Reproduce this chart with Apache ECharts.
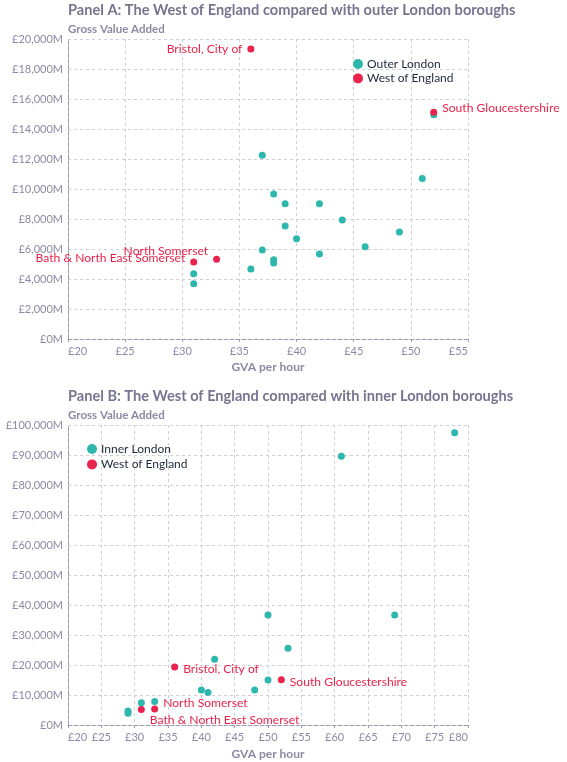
<!DOCTYPE html>
<html>
<head>
<meta charset="utf-8">
<script src="https://cdn.jsdelivr.net/npm/echarts@6/dist/echarts.min.js"></script>
<style>
  html, body { margin: 0; padding: 0; background: #ffffff; }
  #chart { width: 567px; height: 762px; }
</style>
</head>
<body>
<div id="chart"></div>
<script>
// ---- Data ----
const outerLondonGvaPerHour = [52, 37, 51, 38, 39, 42, 44, 39, 49, 40, 46, 37, 42, 38, 38, 36, 31, 31];
const outerLondonGva        = [14950, 12250, 10700, 9670, 9020, 9020, 7930, 7530, 7130, 6690, 6150, 5930, 5670, 5290, 5070, 4670, 4350, 3690];

const innerLondonGvaPerHour = [78, 61, 50, 69, 53, 42, 50, 40, 48, 41, 33, 31, 29, 29];
const innerLondonGva        = [97400, 89600, 36700, 36700, 25600, 21900, 15000, 11700, 11700, 10800, 7800, 7400, 4700, 3900];

const westNames       = ["Bristol, City of", "South Gloucestershire", "North Somerset", "Bath & North East Somerset"];
const westGvaPerHour  = [36, 52, 33, 31];
const westGva         = [19330, 15120, 5310, 5130];

const panelATicksX = { min: 20, max: 55, interval: 5 };
const panelATicksY = { min: 0, max: 20000, interval: 2000 };
const panelBTicksX = { min: 20, max: 80, interval: 5 };
const panelBTicksY = { min: 0, max: 100000, interval: 10000 };

// ---- Styles ----
const TEAL = '#2db7ad';
const RED = '#e8234d';
const MUTED = '#8b8aa4';
const FONT = 'Lato';

const labelStyleA = {
  "Bristol, City of": { position: 'left', distance: 5, offset: [0, 0] },
  "South Gloucestershire": { position: 'right', distance: 5, offset: [0, -4] },
  "North Somerset": { position: 'left', distance: 5, offset: [0, -8] },
  "Bath & North East Somerset": { position: 'left', distance: 5, offset: [0, -4] }
};
const labelStyleB = {
  "Bristol, City of": { position: 'right', distance: 5, offset: [0, 2] },
  "South Gloucestershire": { position: 'right', distance: 5, offset: [0, 2] },
  "North Somerset": { position: 'right', distance: 5, offset: [0, -6] },
  "Bath & North East Somerset": { position: 'right', distance: 5, offset: [0, 10] }
};

function pairs(xs, ys) { return xs.map((x, i) => [x, ys[i]]); }
function westData(styles) {
  return westNames.map((n, i) => ({
    name: n,
    value: [westGvaPerHour[i], westGva[i]],
    label: Object.assign({ show: true, formatter: n }, styles[n])
  }));
}

function xAxisFor(gridIndex, t, gap) {
  return {
    type: 'value', gridIndex, min: t.min, max: t.max, interval: t.interval,
    name: 'GVA per hour', nameLocation: 'middle', nameGap: gap,
    nameTextStyle: { color: MUTED, fontFamily: FONT, fontWeight: 'bold', fontSize: 12 },
    axisLine: { show: true, lineStyle: { color: '#9b9ab2', type: 'dashed', width: 1 } },
    axisTick: { show: true, length: 3, lineStyle: { color: '#9b9ab2' } },
    axisLabel: {
      color: MUTED, fontFamily: FONT, fontSize: 11, margin: 7,
      formatter: v => '£' + v,
      alignMinLabel: 'left', alignMaxLabel: 'right'
    },
    splitLine: { show: true, lineStyle: { color: '#cfcfdc', type: [3, 3], width: 1 } }
  };
}
function yAxisFor(gridIndex, t) {
  return {
    type: 'value', gridIndex, min: t.min, max: t.max, interval: t.interval,
    axisLine: { show: true, lineStyle: { color: '#9b9ab2', type: 'dashed', width: 1 } },
    axisTick: { show: false },
    axisLabel: {
      color: MUTED, fontFamily: FONT, fontSize: 11, margin: 5,
      formatter: v => '£' + v.toLocaleString('en-GB') + 'M'
    },
    splitLine: { show: true, lineStyle: { color: '#cfcfdc', type: [3, 3], width: 1 } }
  };
}

const labelText = { color: RED, fontFamily: FONT, fontSize: 12.1 };
const titleStyle = { color: '#767590', fontFamily: FONT, fontWeight: 'bold', fontSize: 14.6 };
const subStyle = { color: MUTED, fontFamily: FONT, fontWeight: 'bold', fontSize: 11.5 };
const legendText = { color: '#1d2a3a', fontFamily: FONT, fontSize: 12, lineHeight: 10, padding: [0, 0, 0, -1] };

const option = {
  backgroundColor: '#ffffff',
  animation: false,
  title: [
    { text: 'Panel A: The West of England compared with outer London boroughs', left: 68, top: 3, padding: 0, textStyle: titleStyle },
    { text: 'Gross Value Added', left: 68, top: 23, padding: 0, textStyle: subStyle },
    { text: 'Panel B: The West of England compared with inner London boroughs', left: 68, top: 389, padding: 0, textStyle: titleStyle },
    { text: 'Gross Value Added', left: 68, top: 409, padding: 0, textStyle: subStyle }
  ],
  legend: [
    { data: ['Outer London', 'West of England'], orient: 'vertical', left: 353, top: 58, padding: 0,
      icon: 'circle', itemWidth: 10, itemHeight: 10, itemGap: 2.4, textStyle: legendText },
    { data: ['Inner London', 'West of England'], orient: 'vertical', left: 87, top: 443, padding: 0,
      icon: 'circle', itemWidth: 10, itemHeight: 10, itemGap: 3.4, textStyle: legendText }
  ],
  grid: [
    { left: 68, top: 39, width: 400, height: 300 },
    { left: 68, top: 425, width: 400, height: 300 }
  ],
  xAxis: [xAxisFor(0, panelATicksX, 22), xAxisFor(1, panelBTicksX, 23)],
  yAxis: [yAxisFor(0, panelATicksY), yAxisFor(1, panelBTicksY)],
  series: [
    { name: 'Outer London', type: 'scatter', xAxisIndex: 0, yAxisIndex: 0, symbolSize: 7,
      itemStyle: { color: TEAL, opacity: 1 }, data: pairs(outerLondonGvaPerHour, outerLondonGva) },
    { name: 'West of England', type: 'scatter', xAxisIndex: 0, yAxisIndex: 0, symbolSize: 7,
      itemStyle: { color: RED, opacity: 1 }, label: labelText, data: westData(labelStyleA) },
    { name: 'Inner London', type: 'scatter', xAxisIndex: 1, yAxisIndex: 1, symbolSize: 7,
      itemStyle: { color: TEAL, opacity: 1 }, data: pairs(innerLondonGvaPerHour, innerLondonGva) },
    { name: 'West of England', type: 'scatter', xAxisIndex: 1, yAxisIndex: 1, symbolSize: 7,
      itemStyle: { color: RED, opacity: 1 }, label: labelText, data: westData(labelStyleB) }
  ]
};

const chart = echarts.init(document.getElementById('chart'), null, { renderer: 'canvas' });
chart.setOption(option);
</script>
</body>
</html>
